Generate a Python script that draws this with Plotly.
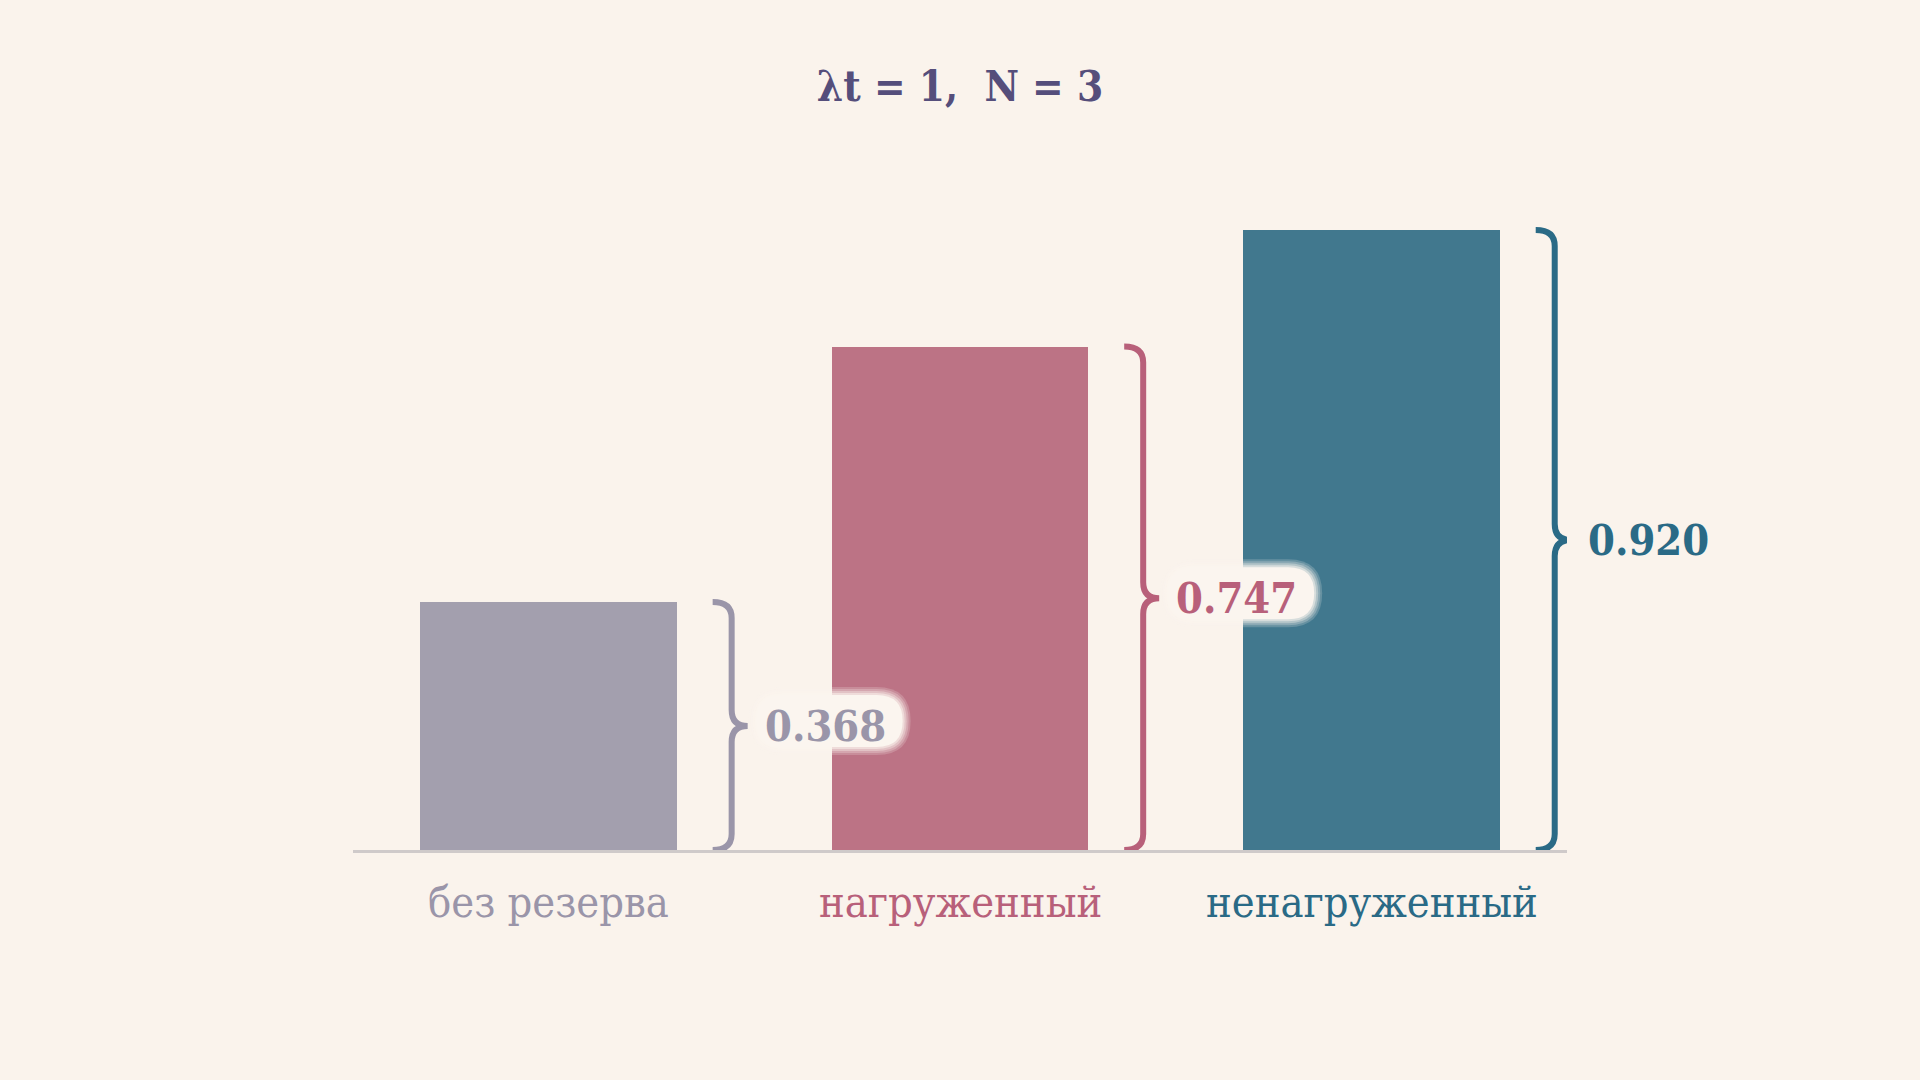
import plotly.graph_objects as go

categories = ["без резерва", "нагруженный", "ненагруженный"]
values = [0.368, 0.747, 0.920]
value_labels = ["0.368", "0.747", "0.920"]
bar_colors = ["#a39fae", "#bc7385", "#41788e"]
accent_colors = ["#9a95a9", "#b8607a", "#2a6a86"]
title_text = "λt = 1,\u00a0 N = 3"

BG = "#faf3ec"
W = 0.623
PX_PER_UNIT = 674.0  # plot height in px for y range [0,1]
xs = list(range(len(categories)))
FONT = "DejaVu Serif Condensed, DejaVu Serif"

fig = go.Figure()
fig.add_trace(go.Bar(
    x=xs, y=values, width=W,
    marker=dict(color=bar_colors, line=dict(width=0)),
    hoverinfo="skip", showlegend=False,
))

shapes = []
annotations = []
for i, v in enumerate(values):
    edge = i + W / 2
    m = v / 2
    c = 16 / PX_PER_UNIT
    x0, x1, x2 = 36, 55, 71
    path = (f"M {x0},{v} Q {x1},{v} {x1},{v - c} L {x1},{m + c} "
            f"Q {x1},{m} {x2},{m} Q {x1},{m} {x1},{m - c} "
            f"L {x1},{c} Q {x1},0 {x0},0")
    shapes.append(dict(type="path", xref="x", yref="y", xsizemode="pixel",
                       xanchor=edge, path=path, layer="above",
                       line=dict(color=accent_colors[i], width=6),
                       fillcolor="rgba(0,0,0,0)"))
    # label pill with soft edges
    for grow, op in [(8, 0.2), (6, 0.25), (4, 0.35), (2, 0.5), (0, 1.0)]:
        l, r = 80 - grow, 226 + grow
        h = 26 + grow
        yc = m + 5 / PX_PER_UNIT
        top = yc + h / PX_PER_UNIT
        bot = yc - h / PX_PER_UNIT
        rpx = h
        pp = (f"M {l + rpx},{top} L {r - rpx},{top} Q {r},{top} {r},{yc} "
              f"Q {r},{bot} {r - rpx},{bot} L {l + rpx},{bot} "
              f"Q {l},{bot} {l},{yc} Q {l},{top} {l + rpx},{top} Z")
        shapes.append(dict(type="path", xref="x", yref="y", xsizemode="pixel",
                           xanchor=edge, path=pp, layer="above",
                           line=dict(width=0), fillcolor="#fbf5ef", opacity=op))
    annotations.append(dict(x=edge, y=m, xref="x", yref="y", xanchor="left",
                            yanchor="middle", xshift=86, showarrow=False,
                            text=f"<b>{value_labels[i]}</b>",
                            font=dict(family=FONT, size=43,
                                      color=accent_colors[i])))
    annotations.append(dict(x=i, y=0, xref="x", yref="y", xanchor="center",
                            yanchor="middle", yshift=-52, showarrow=False,
                            text=categories[i],
                            font=dict(family=FONT, size=43,
                                      color=accent_colors[i])))

fig.update_layout(
    width=1920, height=1080,
    paper_bgcolor=BG, plot_bgcolor=BG,
    margin=dict(l=353, r=353, t=176, b=230),
    title=dict(text=f"<b>{title_text}</b>", x=0.5, xanchor="center",
               y=1 - 86 / 1080, yanchor="middle", yref="container",
               font=dict(family=FONT, size=42, color="#554e7b")),
    xaxis=dict(range=[-0.475, 2.475], showgrid=False, zeroline=False,
               showticklabels=False, showline=True, linecolor="#cfcaca",
               linewidth=3, fixedrange=True),
    yaxis=dict(range=[0, 1], showgrid=False, zeroline=False,
               showticklabels=False, showline=False, fixedrange=True),
    shapes=shapes, annotations=annotations,
    bargap=0,
)

post = "document.body.style.margin = '0';"
fig.write_html("out.html", post_script=post, config={"displayModeBar": False})
